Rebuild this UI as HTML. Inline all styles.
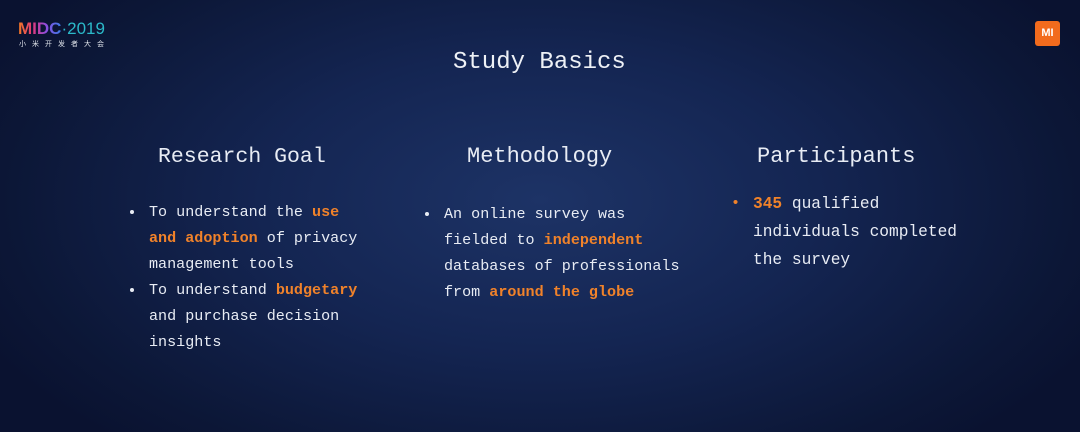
<!DOCTYPE html>
<html><head><meta charset="utf-8"><style>
html,body{margin:0;padding:0}
body{width:1080px;height:432px;overflow:hidden;position:relative;font-family:"Liberation Mono","Noto Sans CJK SC",monospace;color:#e8ecf4;
background:radial-gradient(ellipse 620px 330px at 540px 200px,#1d3366 0%,#142552 45%,#0c1737 85%,#0a1230 100%);}
.a{position:absolute;white-space:nowrap}
.h{font-size:22px;line-height:28px}
.t{font-size:15.1px;line-height:26px}
.o{color:#f0822a;font-weight:bold}
.b{position:absolute;width:4px;height:4px;border-radius:50%;background:#e8ecf4}
</style></head><body>
<div class="a" style="left:18px;top:19px;font-family:'Liberation Sans',sans-serif;font-weight:bold;font-size:17px;line-height:20px">
<span style="background:linear-gradient(90deg,#f47b20,#e0397a,#8b4ee0,#3a7be8);-webkit-background-clip:text;color:transparent">MIDC</span><span style="color:#2bb9c9;font-weight:normal">·2019</span></div>
<div class="a" style="left:19px;top:39px;font-family:'Noto Sans CJK SC',sans-serif;font-size:7px;letter-spacing:6px;color:#dfe3ea">小米开发者大会</div>
<div class="a" style="left:1035px;top:21px;width:25px;height:25px;background:#f26b1d;border-radius:3px;color:#fff;font-family:'Liberation Sans',sans-serif;font-weight:bold;font-size:11px;line-height:25px;text-align:center">MI</div>
<div class="a" style="left:453px;top:47px;font-size:24px;line-height:32px;color:#eef1f6">Study Basics</div>

<div class="a h" style="left:158px;top:143px;font-size:21.5px">Research Goal</div>
<div class="b" style="left:130px;top:210px"></div>
<div class="a t" style="left:149px;top:199px">To understand the <span class="o">use</span><br><span class="o">and adoption</span> of privacy<br>management tools</div>
<div class="b" style="left:130px;top:288px"></div>
<div class="a t" style="left:149px;top:277px">To understand <span class="o">budgetary</span><br>and purchase decision<br>insights</div>

<div class="a h" style="left:467px;top:143px">Methodology</div>
<div class="b" style="left:425px;top:212px"></div>
<div class="a t" style="left:444px;top:201px">An online survey was<br>fielded to <span class="o">independent</span><br>databases of professionals<br>from <span class="o">around the globe</span></div>

<div class="a h" style="left:757px;top:143px">Participants</div>
<div class="a t" style="left:731px;top:190px;color:#f0822a">•</div>
<div class="a t" style="left:753px;top:190px;line-height:28px;font-size:16.2px"><span class="o">345</span> qualified<br>individuals completed<br>the survey</div>
</body></html>
